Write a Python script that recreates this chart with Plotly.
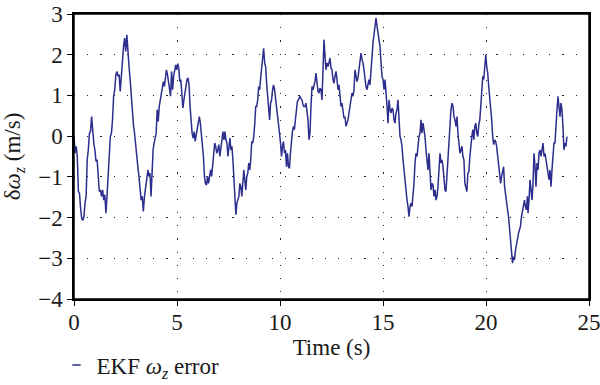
import numpy as np
import plotly.graph_objects as go

# Segment time limits (s) and read values of the EKF omega_z error (m/s)
seg_start = [0.00, 3.59, 7.28, 10.97, 14.71, 18.35, 22.04]
seg_end = [3.58, 7.23, 10.94, 14.66, 18.30, 22.01, 23.93]

seg1 = [-0.01, -0.42, -0.25, -0.50, -1.36, -1.40, -1.77, -2.02, -2.07, -1.98,
        -1.65, -1.48, -0.58, -0.34, 0.07, 0.11, 0.48, 0.07, -0.17, -0.34,
        -0.62, -0.58, -1.16, -1.36, -1.32, -1.48, -1.32, -1.57, -1.44, -1.89,
        -1.48, -0.99, -0.58, -0.01, 0.07, 0.40, 0.98, 1.14, 1.51, 1.59,
        1.47, 1.51, 1.10, 1.55, 1.71, 2.20, 2.41, 2.08, 2.49, 1.96,
        1.71, 1.39, 0.98, 0.65, 0.28, 0.07, -0.25, -0.54, -0.75, -0.99,
        -1.32, -1.57, -1.48, -1.85, -1.48, -1.24, -1.16, -0.91]
seg2 = [-0.83, -0.99, -0.91, -1.48, -0.83, -0.34, -0.17, -0.01, 0.07, 0.65,
        0.36, 0.73, 0.89, 1.06, 1.22, 1.34, 1.22, 1.47, 1.63, 1.51,
        1.30, 1.14, 0.98, 1.59, 1.14, 1.47, 1.67, 1.75, 1.63, 1.78,
        1.67, 1.34, 1.39, 1.02, 0.69, 0.89, 1.06, 1.22, 1.39, 1.43,
        1.26, 0.73, 0.32, 0.07, -0.05, 0.11, -0.13, 0.03, 0.24, 0.40,
        0.48, 0.32, 0.07, -0.25, -0.50, -0.99, -1.16, -1.20, -0.99, -1.16,
        -1.03, -0.83, -0.99, -0.66, -0.42, -0.17, -0.25, -0.42, -0.34, -0.21,
        -0.50, -0.25, -0.09, 0.11]
seg3 = [-0.09, 0.11, -0.09, -0.17, -0.50, -0.17, -0.05, -0.34, -0.25, -0.58,
        -1.07, -1.48, -1.93, -1.65, -1.57, -1.48, -1.16, -1.24, -1.48, -0.99,
        -0.83, -1.07, -1.32, -0.99, -0.91, -0.66, -0.83, -0.58, -0.13, -0.17,
        -0.01, 0.28, 0.73, 0.73, 0.89, 1.22, 1.14, 1.43, 1.71, 1.96,
        2.16, 1.80, 1.71, 1.30, 0.98, 0.73, 0.40, 0.81, 0.89, 1.14,
        1.26, 1.14, 0.89, 0.65, 0.48, 0.24, 0.07, -0.17, -0.50, -0.25,
        -0.13, -0.42, -0.34, -0.75, -0.42, -0.75, -0.79, -0.42, -0.01, 0.11,
        0.24, 0.16, 0.40, 0.61, 0.85, 0.89, 0.98]
seg4 = [0.98, 0.93, 0.89, 0.77, 0.73, 0.73, 0.81, 0.61, 0.40, -0.09,
        0.07, 0.73, 1.22, 1.14, 1.22, 1.34, 1.55, 1.22, 1.10, 1.06,
        1.18, 1.14, 0.89, 1.63, 2.37, 1.96, 1.63, 1.80, 1.71, 1.80,
        1.92, 1.67, 1.63, 1.39, 1.30, 1.47, 1.59, 1.39, 1.14, 1.26,
        0.98, 0.73, 0.81, 0.57, 0.44, 0.48, 0.24, 0.32, 0.40, 0.57,
        0.73, 0.98, 1.06, 0.98, 1.14, 1.63, 1.47, 1.34, 1.43, 1.67,
        1.80, 2.04, 1.88, 1.80, 1.63, 1.39, 1.22, 1.14, 1.26, 1.39,
        1.26, 1.71, 2.04, 2.29, 2.49, 2.78, 2.90]
seg5 = [2.70, 2.49, 2.37, 2.20, 1.80, 1.47, 1.39, 1.14, 1.39, 0.89,
        0.73, 0.32, 0.89, 0.65, 0.57, 0.69, 0.65, 0.40, 0.32, 0.57,
        0.65, 0.89, 0.32, -0.01, -0.09, -0.25, -0.58, -0.83, -1.24, -1.32,
        -1.57, -1.73, -1.98, -1.73, -1.65, -1.73, -1.48, -1.16, -0.66, -0.42,
        -0.50, -0.17, -0.01, 0.07, 0.40, 0.07, 0.32, 0.16, -0.01, -0.34,
        -0.58, -0.83, -0.42, -0.83, -1.32, -1.16, -1.20, -1.48, -1.32, -1.57,
        -1.48, -1.24, -0.91, -0.42, -0.66, -0.58, -0.75, -1.16, -1.32, -1.36,
        -0.91, -0.50, -0.09, 0.48, 0.65]
seg6 = [0.81, 0.73, 0.48, 0.40, 0.24, 0.48, 0.07, -0.25, -0.42, -0.34,
        -0.25, -0.50, -0.58, -1.16, -1.32, -1.36, -0.91, -0.87, -0.50, -0.17,
        -0.01, 0.16, -0.09, 0.24, 0.32, 0.07, -0.01, 0.28, 0.40, 0.73,
        1.30, 1.47, 1.39, 1.67, 2.00, 1.71, 1.55, 1.22, 0.98, 0.73,
        0.40, -0.01, -0.21, -0.09, -0.13, -0.25, -0.50, -0.83, -1.07, -1.16,
        -0.99, -0.83, -0.75, -1.24, -1.48, -1.65, -1.81, -1.98, -2.30, -2.63,
        -2.96, -3.12, -2.96, -3.04, -2.80, -2.63, -2.55, -2.39, -2.30, -2.22,
        -1.98, -1.81, -1.65, -1.57, -1.73, -1.81, -1.48]
seg7 = [-1.89, -1.57, -1.07, -1.32, -1.57, -1.16, -0.42, -0.75, -1.24, -0.66,
        -0.83, -0.42, -0.34, -0.50, -0.25, -0.17, -0.50, -0.42, -0.58, -0.75,
        -0.91, -1.07, -0.83, -1.24, -0.83, -0.50, -0.17, -0.17, 0.40, 0.65,
        0.98, 0.77, 0.48, 0.81, 0.65, 0.24, -0.34, -0.17, -0.25, -0.01]

segments = [seg1, seg2, seg3, seg4, seg5, seg6, seg7]

x_ticks = [0, 5, 10, 15, 20, 25]
y_ticks = [-4, -3, -2, -1, 0, 1, 2, 3]

time = np.concatenate([np.linspace(s, e, len(v)) for s, e, v in zip(seg_start, seg_end, segments)])
err = np.concatenate([np.array(v) for v in segments])

LINE = "#2B2E8C"
FONT = "Liberation Serif"
TXT = "#1a1a1a"
FS = 23

fig = go.Figure()
fig.add_trace(go.Scatter(x=time, y=err, mode="lines",
                         line=dict(color=LINE, width=1.5),
                         showlegend=False))
# legend entry (short dash like the original)
fig.add_trace(go.Scatter(x=[None], y=[None], mode="markers",
                         name="EKF <i>ω</i><sub><i>z</i></sub> error",
                         marker=dict(symbol="line-ew-open", size=6, color=LINE,
                                     line=dict(color=LINE, width=1.5)),
                         showlegend=True))

axis_common = dict(
    showline=True, linecolor="black", linewidth=1.5, mirror=True,
    ticks="outside", ticklen=5, tickwidth=1, tickcolor="black",
    showgrid=True, gridcolor="#222222", gridwidth=1, griddash="1.2px,12px",
    zeroline=False, automargin=False, ticklabeloverflow="allow",
    tickfont=dict(family=FONT, size=FS, color=TXT),
)

fig.update_xaxes(range=[0, 25], tickvals=x_ticks, ticktext=[str(v) for v in x_ticks],
                 ticklabelstandoff=-3,
                 title=dict(text="Time (s)", font=dict(family=FONT, size=FS, color=TXT), standoff=5),
                 **axis_common)
fig.update_yaxes(range=[-4, 3], tickvals=y_ticks,
                 ticktext=[("−" + str(-v)) if v < 0 else str(v) for v in y_ticks],
                 title=dict(text="δ<i>ω</i><sub><i>z</i></sub> (m/s)",
                            font=dict(family=FONT, size=FS, color=TXT), standoff=19),
                 **axis_common)

fig.update_layout(
    width=600, height=385,
    margin=dict(l=74, r=11, t=14, b=86, autoexpand=False),
    paper_bgcolor="white", plot_bgcolor="white",
    font=dict(family=FONT, size=FS, color=TXT),
    legend=dict(x=-0.034, y=-0.232, xanchor="left", yanchor="middle",
                bgcolor="rgba(0,0,0,0)", borderwidth=0,
                font=dict(family=FONT, size=FS, color=TXT)),
    # plot frame (box around the plotting area)
    shapes=[dict(type="rect", xref="paper", yref="paper", x0=0, x1=1, y0=0, y1=1,
                 line=dict(color="black", width=1.5), fillcolor="rgba(0,0,0,0)",
                 layer="above")],
)

# remove the page's default body margin so the figure sits at the window origin
fig.write_html("out.html", config={"displayModeBar": False},
               post_script="document.body.style.margin='0px';")
